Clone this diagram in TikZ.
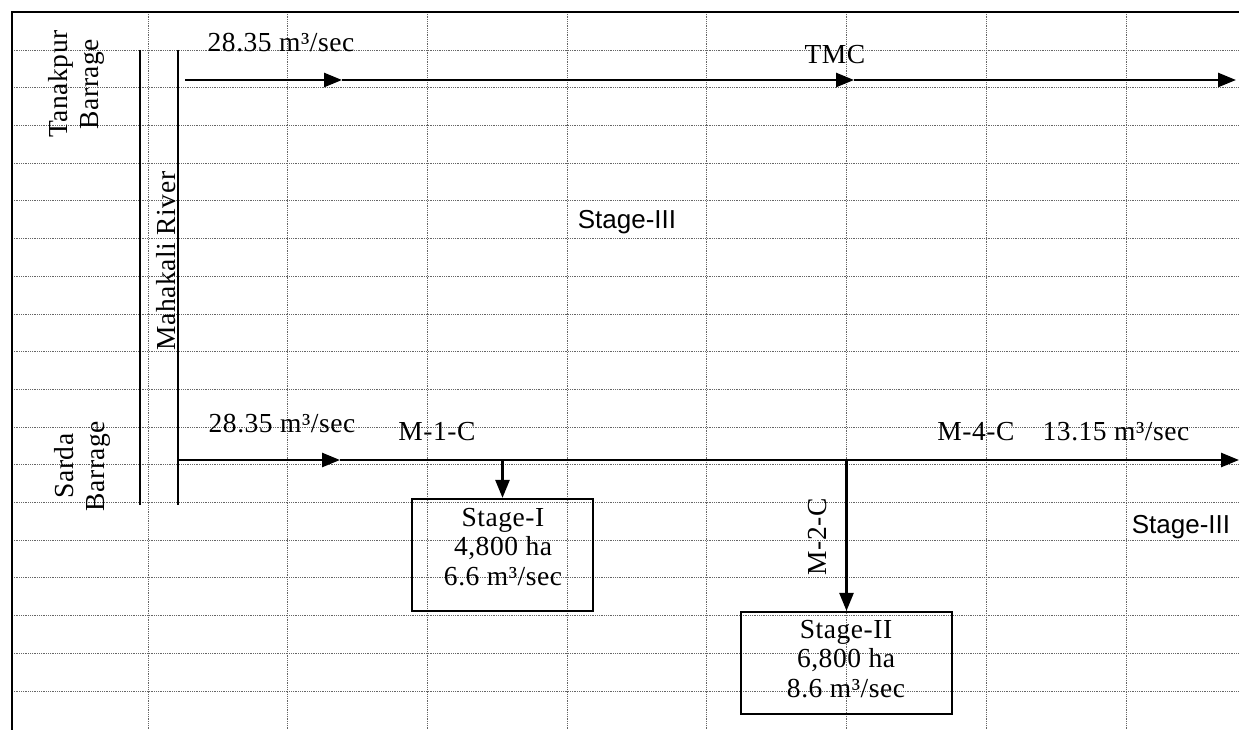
\documentclass[tikz,border=0pt]{standalone}
\usepackage{fontspec}
\setmainfont{Liberation Serif}[LetterSpace=2]
\newfontfamily\arialf{Liberation Sans}
\usetikzlibrary{arrows.meta}
\begin{document}
\begin{tikzpicture}[x=1pt,y=-1pt,
  gridline/.style={densely dotted, line width=0.8pt, black!60},
  flow/.style={line width=2.6pt, -{Triangle[length=18pt,width=14pt]}},
  wall/.style={line width=2.6pt},
  box/.style={draw, line width=2.2pt, inner sep=0pt},
  lbl/.style={font=\fontsize{27.5}{31}\selectfont, inner sep=0pt},
  boxtxt/.style={font=\fontsize{27.5}{29.5}\selectfont, inner sep=0pt, align=center},
  slbl/.style={font=\arialf\fontsize{26}{30}\selectfont, inner sep=0pt},
]
\useasboundingbox (0,0) rectangle (1239,730);
\fill[white] (0,0) rectangle (1239,730);
% grid
\foreach \i in {0,...,17} \draw[gridline] (12,{50+37.7*\i}) -- (1239,{50+37.7*\i});
\foreach \i in {0,...,7} \draw[gridline] ({148+139.7*\i},12) -- ({148+139.7*\i},730);
% border
\draw[line width=2.6pt] (1239,12) -- (12,12) -- (12,730);
% barrage / river walls
\draw[wall] (140,50) -- (140,505);
\draw[wall] (178,50) -- (178,505);
% top canal (TMC)
\coordinate (t0) at (185,80);
\coordinate (t1) at (342,80);
\coordinate (t2) at (854,80);
\coordinate (t3) at (1236,80);
\draw[flow] (t0) -- (t1);
\draw[flow] (t1) -- (t2);
\draw[flow] (t2) -- (t3);
% bottom canal
\coordinate (b0) at (178,460);
\coordinate (b1) at (340,460);
\coordinate (b3) at (1239,460);
\coordinate (j1) at (502.5,460);
\coordinate (j2) at (846.5,460);
\draw[flow] (b0) -- (b1);
\draw[flow] (b1) -- (b3);
% boxes
\node[box, minimum width=181pt, minimum height=112pt] (s1) at (502.5,555) {};
\node[box, minimum width=211pt, minimum height=102pt] (s2) at (846.5,663) {};
\draw[flow] (j1) -- (s1.north);
\draw[flow] (j2) -- (s2.north);
\node[boxtxt] (s1t) at (503,547) {Stage-I\\4,800 ha\\6.6 m³/sec};
\node[boxtxt] (s2t) at (846,659) {Stage-II\\6,800 ha\\8.6 m³/sec};
% labels
\node[lbl] (q1) at (281,43) {28.35 m³/sec};
\node[lbl] (tmc) at (835,55) {TMC};
\node[slbl] (s3a) at (627,222) {Stage-III};
\node[lbl] (q2) at (282,424) {28.35 m³/sec};
\node[lbl] (m1c) at (437,432) {M-1-C};
\node[lbl] (m4c) at (976,432) {M-4-C};
\node[lbl] (q3) at (1116,432) {13.15 m³/sec};
\node[slbl] (s3b) at (1181,527) {Stage-III};
\node[lbl, rotate=90] (m2c) at (818,537) {M-2-C};
\node[lbl, rotate=90, align=center] (tb) at (76,84) {Tanakpur\\Barrage};
\node[lbl, rotate=90, align=center] (sb) at (82,466) {Sarda\\Barrage};
\node[lbl, rotate=90] (mr) at (166,261) {Mahakali River};
\end{tikzpicture}
\end{document}
